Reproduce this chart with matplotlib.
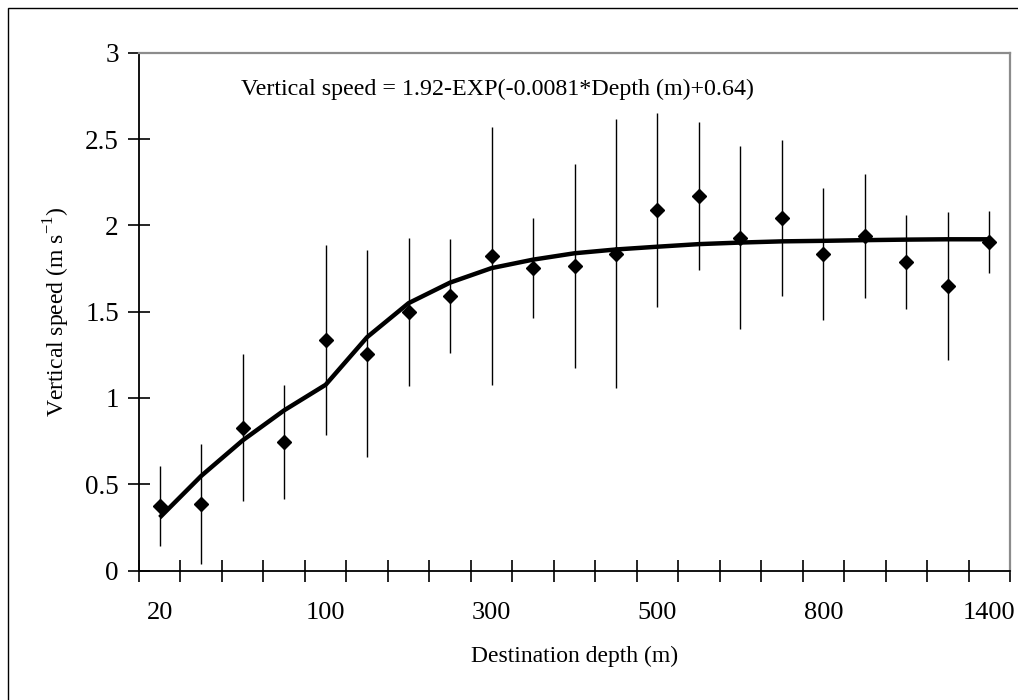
import matplotlib
matplotlib.use("Agg")
import matplotlib.pyplot as plt
from matplotlib.patches import Rectangle
import numpy as np

plt.rcParams['font.family'] = ['Liberation Serif', 'DejaVu Serif']

depths = [20, 40, 60, 80, 100, 150, 200, 250, 300, 350, 400, 450, 500,
          575, 650, 725, 800, 950, 1100, 1250, 1400]
speed_mean = [0.375, 0.387, 0.827, 0.746, 1.337, 1.256, 1.499, 1.590, 1.822,
              1.754, 1.764, 1.836, 2.089, 2.170, 1.928, 2.042, 1.834, 1.940,
              1.787, 1.648, 1.903]
speed_sd = [0.233, 0.347, 0.425, 0.330, 0.55, 0.60, 0.43, 0.33, 0.75, 0.29,
            0.59, 0.78, 0.56, 0.43, 0.53, 0.45, 0.38, 0.36, 0.27, 0.43, 0.18]
fit_speed = [0.307, 0.548, 0.754, 0.928, 1.076, 1.352, 1.549, 1.668, 1.752,
             1.801, 1.838, 1.860, 1.876, 1.891, 1.900, 1.907, 1.910, 1.914,
             1.917, 1.919, 1.919]
tick_labels = ['20', '100', '300', '500', '800', '1400']
equation = 'Vertical speed = 1.92-EXP(-0.0081*Depth (m)+0.64)'

fig = plt.figure(figsize=(10.18, 7.0), dpi=100)
ax = fig.add_axes([139/1018, 1-570.5/700, (1010-139)/1018, (570.5-52.7)/700])

x = np.arange(len(depths))
ax.errorbar(x, speed_mean, yerr=speed_sd, fmt='none', ecolor='black',
            elinewidth=1.0, capsize=0, zorder=2)
ax.plot(x, fit_speed, color='black', lw=3.2, solid_capstyle='butt', zorder=3)
ax.plot(x, speed_mean, linestyle='none', marker='D', markersize=7,
        color='black', zorder=4)

ax.set_xlim(-0.5, len(depths) - 0.5)
ax.set_ylim(0, 3)
ax.set_yticks(np.arange(0, 3.01, 0.5))
ax.set_yticklabels(['0', '0.5', '1', '1.5', '2', '2.5', '3'])
ax.set_xticks(x[::4])
ax.set_xticklabels(tick_labels)
ax.set_xticks(np.arange(-0.5, len(depths), 1.0), minor=True)

ax.tick_params(axis='x', which='major', length=0, pad=23, labelsize=19)
ax.tick_params(axis='x', which='minor', direction='inout', length=16, width=1.2)
ax.tick_params(axis='y', which='major', direction='inout', length=16, width=1.2,
               pad=6.5, labelsize=19.5)

for s in ['left', 'bottom']:
    ax.spines[s].set_color('black')
    ax.spines[s].set_linewidth(1.3)
for s in ['top', 'right']:
    ax.spines[s].set_color('#8c8c8c')
    ax.spines[s].set_linewidth(1.6)

ax.text(0.411, 0.930, equation, transform=ax.transAxes, ha='center', va='center',
        fontsize=17.3)
ax.set_xlabel('Destination depth (m)', fontsize=17, labelpad=15.5)
ax.set_ylabel('Vertical speed (m s$^{\\mathregular{-1}}$)', fontsize=17, labelpad=9)

fig.patches.append(Rectangle((8/1018, -0.05), 1.1, 0.05 + 1 - 8/700,
                             transform=fig.transFigure, fill=False,
                             edgecolor='black', lw=1.0))

fig.savefig('out.png', dpi=100)
